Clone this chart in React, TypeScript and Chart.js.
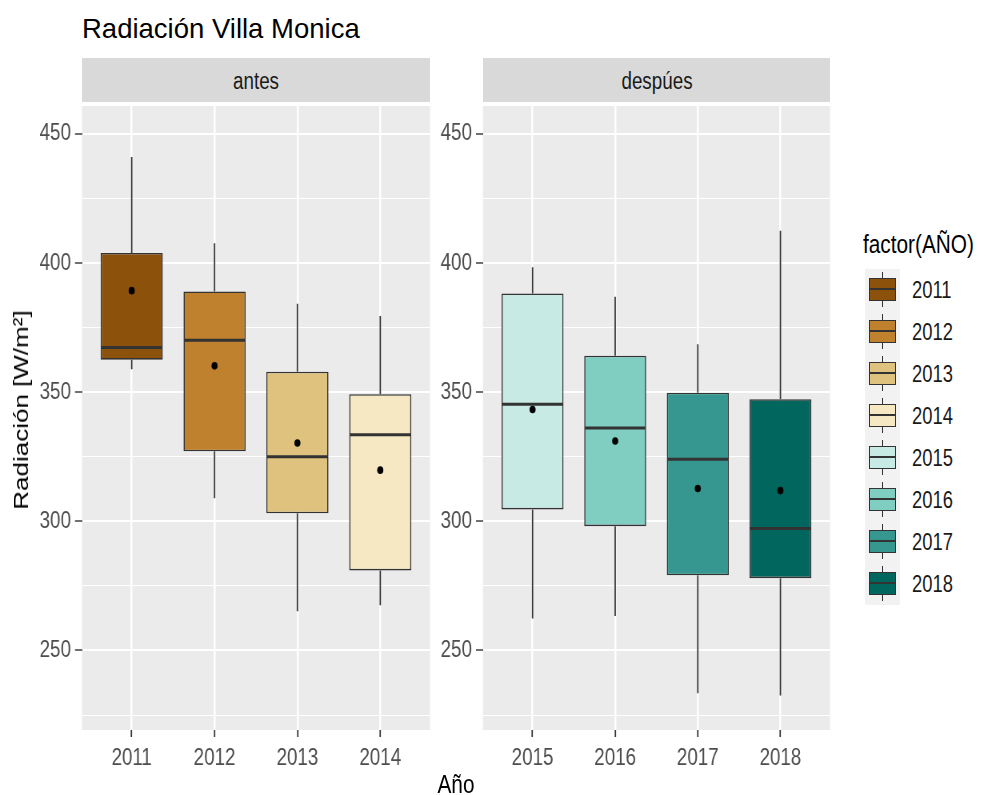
import React, { useEffect, useRef } from 'react';
import { Chart, registerables } from 'chart.js';

Chart.register(...registerables);

// ---------------- data ----------------
const yearsAntes = ['2011', '2012', '2013', '2014'];
const yearsDespues = ['2015', '2016', '2017', '2018'];
const allYears = [...yearsAntes, ...yearsDespues];

const whiskerLow = [358.9, 308.9, 265.2, 267.5, 262.4, 263.3, 233.4, 232.6];
const q1 = [362.6, 327.1, 303.1, 281.0, 304.6, 298.1, 279.1, 278.0];
const medians = [367.3, 370.1, 325.0, 333.5, 345.3, 336.1, 324.0, 297.2];
const q3 = [403.9, 389.0, 357.9, 349.2, 388.2, 364.1, 349.8, 347.3];
const whiskerHigh = [441.1, 407.7, 384.2, 379.5, 398.4, 386.9, 368.6, 412.5];
const means = [389.3, 360.2, 330.3, 319.8, 343.3, 331.1, 312.7, 311.9];

const boxColors = ['#8C510A', '#BF812D', '#DFC27D', '#F6E8C3', '#C7EAE5', '#80CDC1', '#35978F', '#01665E'];

const yTickValues = [225, 250, 275, 300, 325, 350, 375, 400, 425, 450];
const yLabelStep = 50;
const yMin = 219.2;
const yMax = 460.8;

// ---------------- styling ----------------
// the reference is horizontally condensed: the canvases are drawn wider and squeezed by HS
const HS = 0.8;
const TICK_FONT = "'Liberation Sans', Arial, sans-serif";
const TEXT_FONT = "'Liberation Sans', Arial, sans-serif";
const PANEL_BG = '#EBEBEB';
const LINE_COL = '#333333';

const boxExtras = {
  id: 'boxExtras',
  beforeDraw(chart: any) {
    const { ctx, chartArea } = chart;
    ctx.save();
    ctx.fillStyle = PANEL_BG;
    ctx.fillRect(chartArea.left, chartArea.top, chartArea.right - chartArea.left, chartArea.bottom - chartArea.top);
    ctx.restore();
  },
  afterDatasetDraw(chart: any, args: any, opts: any) {
    if (args.index !== 0) return;
    const start = opts.start || 0;
    const ys = chart.scales.y;
    const ctx = chart.ctx;
    ctx.save();
    ctx.strokeStyle = LINE_COL;
    args.meta.data.forEach((bar: any, i: number) => {
      const k = start + i;
      const x = bar.x;
      const w = bar.width;
      ctx.lineWidth = 1.4 / HS;
      ctx.beginPath();
      ctx.moveTo(x, ys.getPixelForValue(q3[k]));
      ctx.lineTo(x, ys.getPixelForValue(whiskerHigh[k]));
      ctx.moveTo(x, ys.getPixelForValue(q1[k]));
      ctx.lineTo(x, ys.getPixelForValue(whiskerLow[k]));
      ctx.stroke();
      ctx.lineWidth = 3;
      ctx.beginPath();
      const my = ys.getPixelForValue(medians[k]);
      ctx.moveTo(x - w / 2 + 1, my);
      ctx.lineTo(x + w / 2 - 1, my);
      ctx.stroke();
    });
    ctx.restore();
  },
};

type PanelProps = {
  left: number;
  top: number;
  width: number;
  height: number;
  axisWidth: number;
  start: number;
  labels: string[];
};

function Panel({ left, top, width, height, axisWidth, start, labels }: PanelProps) {
  const ref = useRef<HTMLCanvasElement | null>(null);
  const cw = Math.round(width / HS);
  useEffect(() => {
    if (!ref.current) return;
    const tickFont = { family: TICK_FONT, size: 23.5 };
    const chart = new Chart(ref.current, {
      type: 'bar',
      data: {
        datasets: [
          {
            type: 'bar',
            data: labels.map((_, i) => ({ x: i, y: [q1[start + i], q3[start + i]] })) as any,
            backgroundColor: boxColors.slice(start, start + labels.length),
            borderColor: LINE_COL,
            borderWidth: 1.6,
            borderSkipped: false,
            barPercentage: 0.75,
            categoryPercentage: 1,
            order: 1,
          } as any,
          {
            type: 'line',
            data: labels.map((_, i) => ({ x: i, y: means[start + i] })) as any,
            showLine: false,
            pointRadius: 3.8,
            pointBackgroundColor: '#000000',
            pointBorderWidth: 0,
            order: 0,
          } as any,
        ],
      },
      options: {
        animation: false,
        responsive: false,
        devicePixelRatio: 1,
        layout: { padding: { left: 0, right: 10 / HS, top: 0, bottom: 0 } },
        plugins: {
          legend: { display: false },
          tooltip: { enabled: false },
          boxExtras: { start },
        } as any,
        scales: {
          x: {
            type: 'linear',
            min: -0.6,
            max: labels.length - 1 + 0.6,
            offset: false,
            afterBuildTicks: (s: any) => {
              s.ticks = labels.map((_, i) => ({ value: i }));
            },
            afterFit: (s: any) => {
              s.height = 65;
              s.paddingLeft = 0;
              s.paddingRight = 0;
            },
            ticks: {
              callback: (v: any) => labels[v] ?? '',
              font: tickFont,
              color: '#4D4D4D',
              padding: 7,
              autoSkip: false,
              maxRotation: 0,
            },
            grid: { color: '#FFFFFF', lineWidth: 2 / HS, tickLength: 7, tickColor: LINE_COL, tickWidth: 1.4 / HS, offset: false },
            border: { display: false },
          },
          y: {
            type: 'linear',
            min: yMin,
            max: yMax,
            afterBuildTicks: (s: any) => {
              s.ticks = yTickValues.map((v) => ({ value: v }));
            },
            afterFit: (s: any) => {
              s.width = axisWidth / HS;
              s.paddingTop = 0;
              s.paddingBottom = 0;
            },
            ticks: {
              callback: (v: any) => (v % yLabelStep === 0 ? String(v) : ''),
              font: tickFont,
              color: '#4D4D4D',
              padding: 4 / HS,
            },
            grid: {
              color: '#FFFFFF',
              lineWidth: (c: any) => (c.tick && c.tick.value % yLabelStep === 0 ? 2 : 1),
              tickLength: 7 / HS,
              tickWidth: 1.4,
              tickColor: (c: any) => (c.tick && c.tick.value % yLabelStep === 0 ? LINE_COL : 'rgba(0,0,0,0)'),
            },
            border: { display: false },
          },
        },
      } as any,
      plugins: [boxExtras],
    });
    return () => chart.destroy();
  }, []);
  return (
    <canvas
      ref={ref}
      width={cw}
      height={height}
      style={{ position: 'absolute', left, top, width, height }}
    />
  );
}

type TextProps = {
  x: number;
  baseline: number;
  text: string;
  size: number;
  align?: 'left' | 'center';
  sx?: number;
  color?: string;
};

function Txt({ x, baseline, text, size, align = 'left', sx = 1, color = '#000' }: TextProps) {
  const top = baseline - 0.8465 * size;
  const transform = align === 'center' ? `translateX(-50%) scaleX(${sx})` : `scaleX(${sx})`;
  return (
    <div
      style={{
        position: 'absolute',
        left: x,
        top,
        fontFamily: TEXT_FONT,
        fontSize: size,
        lineHeight: `${size}px`,
        whiteSpace: 'nowrap',
        color,
        transform,
        transformOrigin: align === 'center' ? '50% 50%' : '0 50%',
      }}
    >
      {text}
    </div>
  );
}

function LegendKey({ color, top }: { color: string; top: number }) {
  return (
    <div style={{ position: 'absolute', left: 865, top, width: 35, height: 42, background: '#F2F2F2' }}>
      <div style={{ position: 'absolute', left: 16.8, top: 3.5, width: 1.4, height: 35, background: LINE_COL }} />
      <div
        style={{
          position: 'absolute',
          left: 4,
          top: 9.5,
          width: 27,
          height: 23,
          boxSizing: 'border-box',
          border: `1.4px solid ${LINE_COL}`,
          background: color,
        }}
      >
        <div style={{ position: 'absolute', left: 0, right: 0, top: 8.5, height: 2.4, background: LINE_COL }} />
      </div>
    </div>
  );
}

export default function App() {
  const legendTop = 268.5;
  const legendStep = 42;
  return (
    <div style={{ position: 'absolute', left: 0, top: 0, width: 988, height: 795, background: '#FFFFFF', overflow: 'hidden' }}>
      <Txt x={82} baseline={38} text="Radiación Villa Monica" size={27.5} />
      {/* strips */}
      <div style={{ position: 'absolute', left: 82, top: 58, width: 348, height: 44, background: '#D9D9D9' }} />
      <div style={{ position: 'absolute', left: 483, top: 58, width: 347, height: 44, background: '#D9D9D9' }} />
      <Txt x={256} baseline={90} text="antes" size={23.5} align="center" sx={0.8} color="#1A1A1A" />
      <Txt x={656.5} baseline={90} text="despúes" size={23.5} align="center" sx={0.8} color="#1A1A1A" />

      <Panel left={0} top={102} width={440} height={693} axisWidth={82} start={0} labels={yearsAntes} />
      <Panel left={440} top={102} width={400} height={693} axisWidth={43} start={4} labels={yearsDespues} />

      {/* axis titles */}
      <Txt x={455.5} baseline={793} text="Año" size={26} align="center" sx={0.8} />
      <div
        style={{
          position: 'absolute',
          left: 21,
          top: 410,
          fontFamily: TEXT_FONT,
          fontSize: 26,
          lineHeight: '26px',
          whiteSpace: 'nowrap',
          color: '#000',
          transform: 'translate(-50%, -50%) rotate(-90deg) scaleY(0.8)',
          transformOrigin: '50% 50%',
        }}
      >
        Radiación [W/m²]
      </div>

      {/* legend */}
      <Txt x={863} baseline={253} text="factor(AÑO)" size={26} sx={0.8} />
      {allYears.map((yr, i) => (
        <React.Fragment key={yr}>
          <LegendKey color={boxColors[i]} top={legendTop + i * legendStep} />
          <Txt x={912} baseline={legendTop + i * legendStep + 21 + 8.5} text={yr} size={23} sx={0.8} color="#1A1A1A" />
        </React.Fragment>
      ))}
    </div>
  );
}
